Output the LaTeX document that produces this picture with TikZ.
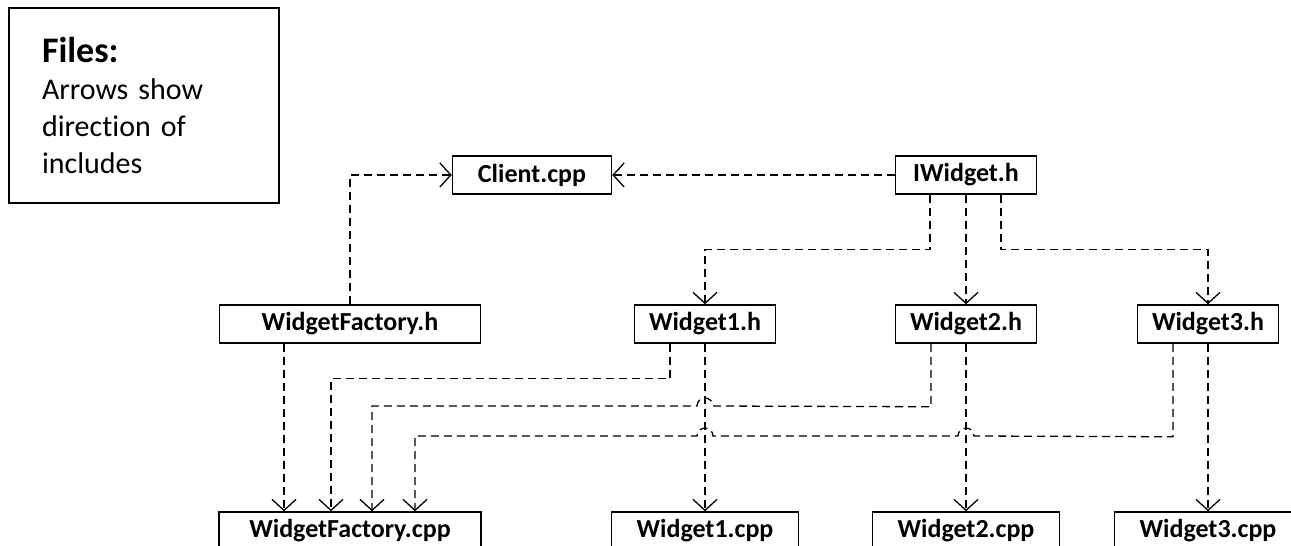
\documentclass[tikz,border=0pt]{standalone}
\usepackage{fontspec}
\setmainfont[Ligatures=NoCommon]{Carlito}
\usetikzlibrary{arrows.meta}

\begin{document}
\begin{tikzpicture}[x=1pt,y=-1pt,
        file/.style={draw,line width=1.5pt,minimum height=38pt,inner sep=0pt,
            font=\fontsize{26}{30}\selectfont\bfseries},
        inc/.style={line width=1.3pt,dash pattern=on 8pt off 5pt,
            -{Straight Barb[length=11pt,width=24pt]}}]
    \useasboundingbox (0,0) rectangle (1291,546);
    \clip (0,0) rectangle (1291,546);
    \node[draw,line width=1.5pt,minimum width=270pt,minimum height=195pt,
        inner xsep=33pt,text width=204pt,align=left,
        font=\fontsize{30}{37}\selectfont] (legend) at (144,105.5)
        {{\fontsize{36}{38}\selectfont\bfseries Files:}\\Arrows show\\direction of\\includes};
    \node[file,minimum width=159pt] (client) at (532,175) {Client.cpp};
    \node[file,minimum width=141pt] (iwidget) at (966,175) {IWidget.h};
    \node[file,minimum width=261pt] (factoryh) at (350,324) {WidgetFactory.h};
    \node[file,minimum width=262pt] (factorycpp) at (350,531) {WidgetFactory.cpp};
    \foreach \i/\x in {1/705,2/966,3/1208}{
        \node[file,minimum width=141pt] (widget\i h) at (\x,324) {Widget\i.h};
        \node[file,minimum width=187pt] (widget\i cpp) at (\x,531) {Widget\i.cpp};
        \draw[inc] (widget\i h.south) -- (widget\i cpp.north);
    }
    \draw[inc] (iwidget.west) -- (client.east);
    \draw[inc] (factoryh.north) |- (client.west);
    \draw[inc] ([xshift=-66pt]factoryh.south) -- ([xshift=-66pt]factorycpp.north);
    \draw[inc] ([xshift=-36pt]iwidget.south) -- ++(0,55) -| (widget1h.north);
    \draw[inc] (iwidget.south) -- (widget2h.north);
    \draw[inc] ([xshift=35pt]iwidget.south) -- ++(0,55) -| (widget3h.north);
    \draw[inc] ([xshift=-35pt]widget1h.south) -- ++(0,35) -| ([xshift=-19pt]factorycpp.north);
    \draw[inc] ([xshift=-35pt]widget2h.south) -- ++(0,63) -- (713,406)
        arc[start angle=0,end angle=-180,radius=8] -| ([xshift=22pt]factorycpp.north);
    \draw[inc] ([xshift=-35pt]widget3h.south) -- ++(0,93) -- (974,436)
        arc[start angle=0,end angle=-180,radius=8] -- (713,436)
        arc[start angle=0,end angle=-180,radius=8] -| ([xshift=65pt]factorycpp.north);
\end{tikzpicture}
\end{document}
